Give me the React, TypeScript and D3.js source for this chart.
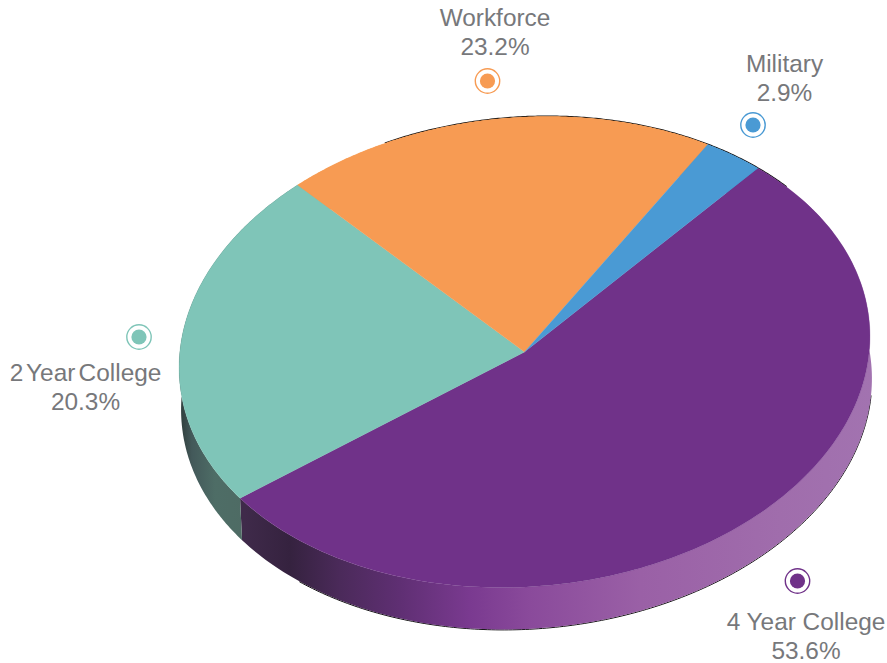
import React from "react";
import * as d3 from "d3";

// Labels as printed on the chart
const labelNames = ["4 Year College", "Military", "Workforce", "2 Year College"];
const labelValues = ["53.6%", "2.9%", "23.2%", "20.3%"];
// Slice shares as drawn, clockwise from the Military / 4 Year College edge
const sliceNames = ["4 Year College", "2 Year College", "Workforce", "Military"];
const sliceShares = [53.6, 23.2, 20.3, 2.9];
const sliceColors = ["#703289", "#7fc5b8", "#f79b53", "#4a9ad4"];

const labelColors: Record<string, string> = {
  "4 Year College": "#703289",
  Military: "#4a9ad4",
  Workforce: "#f79b53",
  "2 Year College": "#7fc5b8",
};

// Layout
const W = 887;
const H = 663;
const CX = 524.5;
const CY = 352;
const DEPTH_X = 2;
const DEPTH_Y = 42;
// Tilted disc: linear map from the unit circle to the screen
const AX = 255, BX = 233, AY = 147, BY = -184;
const START = 0.001;
const markerPos = [[797.5, 581], [753, 125], [487.5, 81], [139, 337]];
const textPos = [[806, 630], [784.5, 72], [495, 26], [85.5, 381]];
const wordGap = [0, 0, 0, -3.5];
const LINE = 28.5;

const wallStops: Record<string, [number, string][]> = {
  "4 Year College": [[245, "#3f2a4a"], [290, "#35223f"], [340, "#4b2a5a"], [400, "#5f2f73"], [470, "#7a3a90"], [530, "#8a4a9b"], [640, "#9a60a6"], [780, "#a06dac"], [872, "#a273b0"]],
  "2 Year College": [[180, "#2f3d3b"], [192, "#43595a"], [215, "#4e6d66"], [246, "#4e6b64"]],
};

const project = (t: number): [number, number] => [
  CX + AX * Math.sin(t) + BX * Math.cos(t),
  CY + AY * Math.sin(t) + BY * Math.cos(t),
];

const arcPoints = (a: number, b: number) =>
  d3.range(0, 181).map((i) => project(a + ((b - a) * i) / 180));

const line = d3.line<[number, number]>();

export default function App() {
  const slices = d3.pie<number>().sort(null).startAngle(START).endAngle(START + 2 * Math.PI)(sliceShares);
  const topRim = line(arcPoints(slices[2].startAngle + 0.3, slices[3].endAngle + 0.12));
  const bottomRim = line(arcPoints(slices[0].startAngle + 0.9, slices[0].endAngle - 0.25));
  return (
    <svg width={W} height={H} viewBox={`0 0 ${W} ${H}`} style={{ position: "absolute", left: 0, top: 0, background: "#fff" }}>
      <defs>
        {Object.entries(wallStops).map(([name, stops], k) => {
          const x = d3.scaleLinear().domain([stops[0][0], stops[stops.length - 1][0]]).range([0, 1]);
          return (
            <linearGradient key={name} id={`wall${k}`} gradientUnits="userSpaceOnUse" x1={stops[0][0]} x2={stops[stops.length - 1][0]} y1={0} y2={0}>
              {stops.map(([p, c]) => <stop key={p} offset={x(p)} stopColor={c} />)}
            </linearGradient>
          );
        })}
      </defs>

      {/* thin dark rims */}
      <path d={topRim!} fill="none" stroke="#111" strokeWidth={1.2} transform="translate(0,-0.4)" />
      <path d={bottomRim!} fill="none" stroke="#111" strokeWidth={1} transform={`translate(${DEPTH_X},${DEPTH_Y + 0.4})`} />

      {/* side walls */}
      {slices.map((s, i) => {
        const top = arcPoints(s.startAngle, s.endAngle);
        const bottom = top.map(([x, y]) => [x + DEPTH_X, y + DEPTH_Y] as [number, number]).reverse();
        const k = Object.keys(wallStops).indexOf(sliceNames[i]);
        return <path key={i} d={line([...top, ...bottom]) + "Z"} fill={k >= 0 ? `url(#wall${k})` : sliceColors[i]} />;
      })}

      {/* top surface */}
      {slices.map((s, i) => (
        <path key={i} d={line([[CX, CY], ...arcPoints(s.startAngle, s.endAngle)]) + "Z"} fill={sliceColors[i]} stroke={sliceColors[i]} strokeWidth={0.3} />
      ))}

      {/* markers and labels */}
      {labelNames.map((name, i) => (
        <g key={name}>
          <circle cx={markerPos[i][0]} cy={markerPos[i][1]} r={12.2} fill="#fff" stroke={labelColors[name]} strokeWidth={1.4} />
          <circle cx={markerPos[i][0]} cy={markerPos[i][1]} r={7.6} fill={labelColors[name]} />
          <text x={textPos[i][0]} y={textPos[i][1]} textAnchor="middle" fontFamily="'Liberation Sans', Arial, sans-serif" fontSize={24.4} fill="#77787b" wordSpacing={wordGap[i]}>
            {name}
            <tspan x={textPos[i][0]} dy={LINE}>{labelValues[i]}</tspan>
          </text>
        </g>
      ))}
    </svg>
  );
}
